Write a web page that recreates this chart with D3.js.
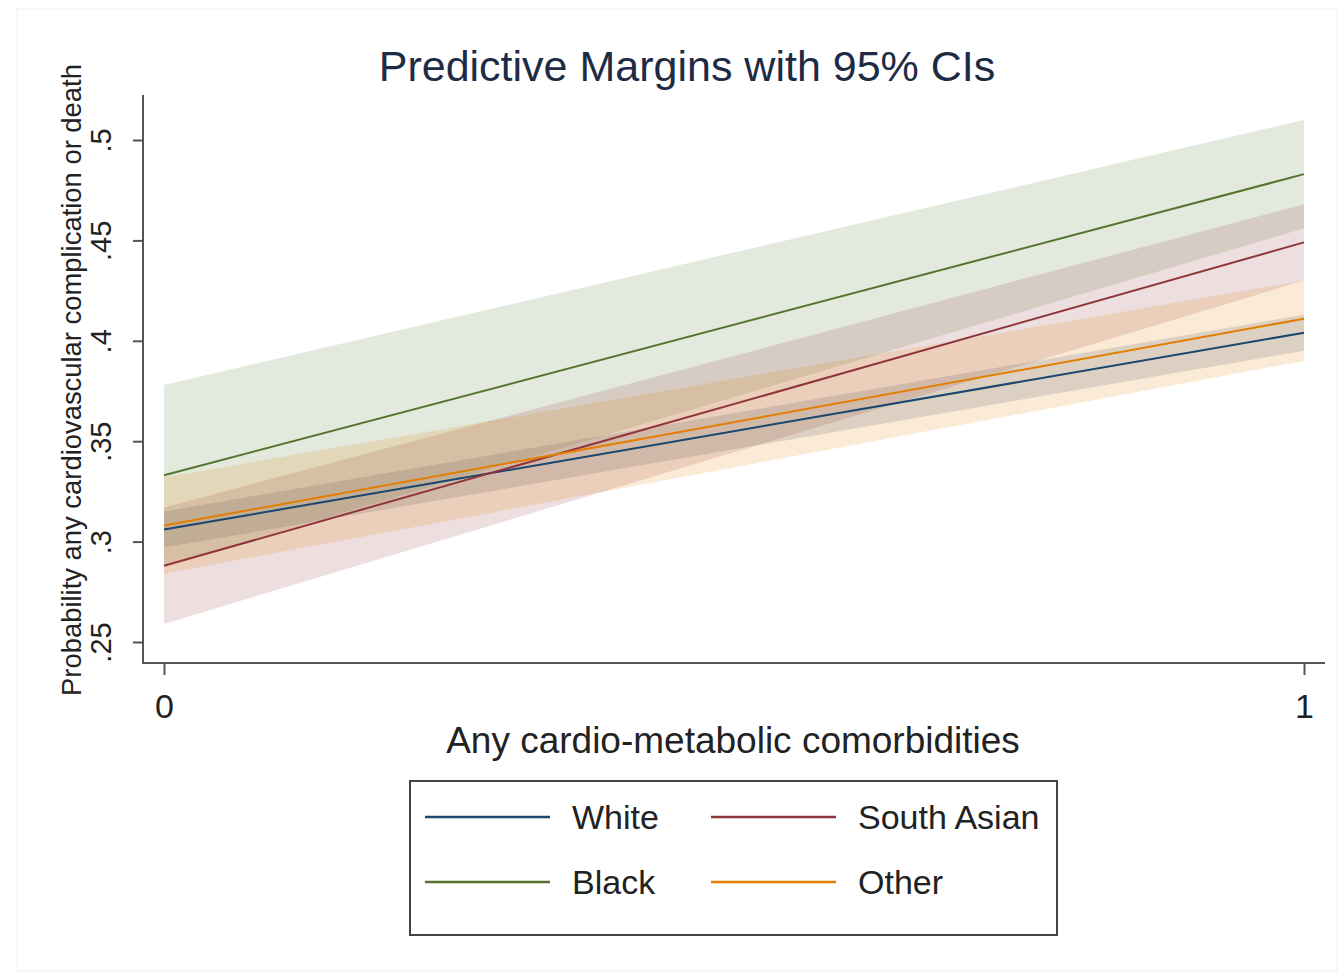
<!DOCTYPE html>
<html>
<head>
<meta charset="utf-8">
<script src="https://cdn.jsdelivr.net/npm/d3@7"></script>
<style>
  html, body { margin: 0; padding: 0; background: #fff; }
  svg { display: block; font-family: "Liberation Sans", Arial, sans-serif; }
</style>
</head>
<body>
<svg id="chart" width="1342" height="977"></svg>
<script>
// ---- data ----
const xValues = [0, 1];
const xTickLabels = ["0", "1"];
const yTicks = [0.25, 0.30, 0.35, 0.40, 0.45, 0.50];
const yTickLabels = [".25", ".3", ".35", ".4", ".45", ".5"];
const seriesNames = ["White", "Black", "South Asian", "Other"];
const seriesColors = ["#1a476f", "#55752f", "#90353b", "#e37e00"];
const whiteMean = [0.306, 0.404];
const whiteLo = [0.297, 0.395];
const whiteHi = [0.315, 0.413];
const blackMean = [0.333, 0.483];
const blackLo = [0.288, 0.456];
const blackHi = [0.378, 0.510];
const southAsianMean = [0.288, 0.449];
const southAsianLo = [0.259, 0.430];
const southAsianHi = [0.317, 0.468];
const otherMean = [0.308, 0.411];
const otherLo = [0.284, 0.390];
const otherHi = [0.332, 0.430];

const series = [
  { name: seriesNames[0], mean: whiteMean, lo: whiteLo, hi: whiteHi, color: seriesColors[0] },
  { name: seriesNames[1], mean: blackMean, lo: blackLo, hi: blackHi, color: seriesColors[1] },
  { name: seriesNames[2], mean: southAsianMean, lo: southAsianLo, hi: southAsianHi, color: seriesColors[2] },
  { name: seriesNames[3], mean: otherMean, lo: otherLo, hi: otherHi, color: seriesColors[3] }
];

const svg = d3.select("#chart");
const x = d3.scaleLinear().domain([0, 1]).range([164, 1304]);
const y = d3.scaleLinear().domain([0.25, 0.5]).range([642, 140]);
const axisColor = "#555";

// faint outer frame
svg.append("rect").attr("x", 17).attr("y", 9).attr("width", 1320).attr("height", 962)
  .attr("fill", "none").attr("stroke", "#f7f7f7").attr("stroke-width", 2);

// CI bands
const area = d3.area()
  .x((d, i) => x(xValues[i]))
  .y0(d => y(d[0]))
  .y1(d => y(d[1]));
series.forEach(s => {
  const pts = xValues.map((v, i) => [s.lo[i], s.hi[i]]);
  svg.append("path").datum(pts).attr("d", area)
    .attr("fill", s.color).attr("fill-opacity", 0.16).attr("stroke", "none");
});

// mean lines
const line = d3.line().x((d, i) => x(xValues[i])).y(d => y(d));
series.forEach(s => {
  svg.append("path").datum(s.mean).attr("d", line)
    .attr("fill", "none").attr("stroke", s.color).attr("stroke-width", 2);
});

// axes
const yAxis = d3.axisLeft(y).tickValues(yTicks).tickSize(10).tickFormat((d, i) => yTickLabels[i]);
const gy = svg.append("g").attr("transform", "translate(143,0)").call(yAxis);
gy.select(".domain").remove();
gy.selectAll(".tick line").attr("stroke", axisColor).attr("stroke-width", 2);
gy.selectAll(".tick text")
  .attr("font-size", 29).attr("fill", "#222")
  .attr("text-anchor", "middle")
  .attr("x", null).attr("y", null).attr("dy", "0")
  .attr("transform", "translate(-32,0) rotate(-90)");
svg.append("line").attr("x1", 143).attr("x2", 143).attr("y1", 95).attr("y2", 664)
  .attr("stroke", axisColor).attr("stroke-width", 2);

const xAxis = d3.axisBottom(x).tickValues(xValues).tickSize(12).tickFormat((d, i) => xTickLabels[i]);
const gx = svg.append("g").attr("transform", "translate(0,663)").call(xAxis);
gx.select(".domain").remove();
gx.selectAll(".tick line").attr("stroke", axisColor).attr("stroke-width", 2);
gx.selectAll(".tick text").attr("font-size", 34).attr("fill", "#222").attr("y", 55).attr("dy", 0);
svg.append("line").attr("x1", 142).attr("x2", 1325).attr("y1", 663).attr("y2", 663)
  .attr("stroke", axisColor).attr("stroke-width", 2);

// titles
svg.append("text").attr("x", 687).attr("y", 81).attr("text-anchor", "middle")
  .attr("font-size", 43).attr("fill", "#1e2b45").text("Predictive Margins with 95% CIs");
svg.append("text").attr("x", 733).attr("y", 753).attr("text-anchor", "middle")
  .attr("font-size", 37).attr("fill", "#222").text("Any cardio-metabolic comorbidities");
svg.append("text").attr("transform", "translate(81,380) rotate(-90)").attr("text-anchor", "middle")
  .attr("font-size", 27.4).attr("fill", "#222").text("Probability any cardiovascular complication or death");

// legend
const lg = svg.append("g");
lg.append("rect").attr("x", 410).attr("y", 781).attr("width", 647).attr("height", 154)
  .attr("fill", "#fff").attr("stroke", "#444").attr("stroke-width", 2);
const legendOrder = [0, 2, 1, 3];
const legendPos = [[425, 817], [711, 817], [425, 882], [711, 882]];
legendOrder.forEach((si, k) => {
  const s = series[si];
  const [lx, ly] = legendPos[k];
  lg.append("line").attr("x1", lx).attr("x2", lx + 125).attr("y1", ly).attr("y2", ly)
    .attr("stroke", s.color).attr("stroke-width", 2.5);
  lg.append("text").attr("x", lx + 147).attr("y", ly + 12).attr("font-size", 34)
    .attr("fill", "#222").text(s.name);
});
</script>
</body>
</html>
